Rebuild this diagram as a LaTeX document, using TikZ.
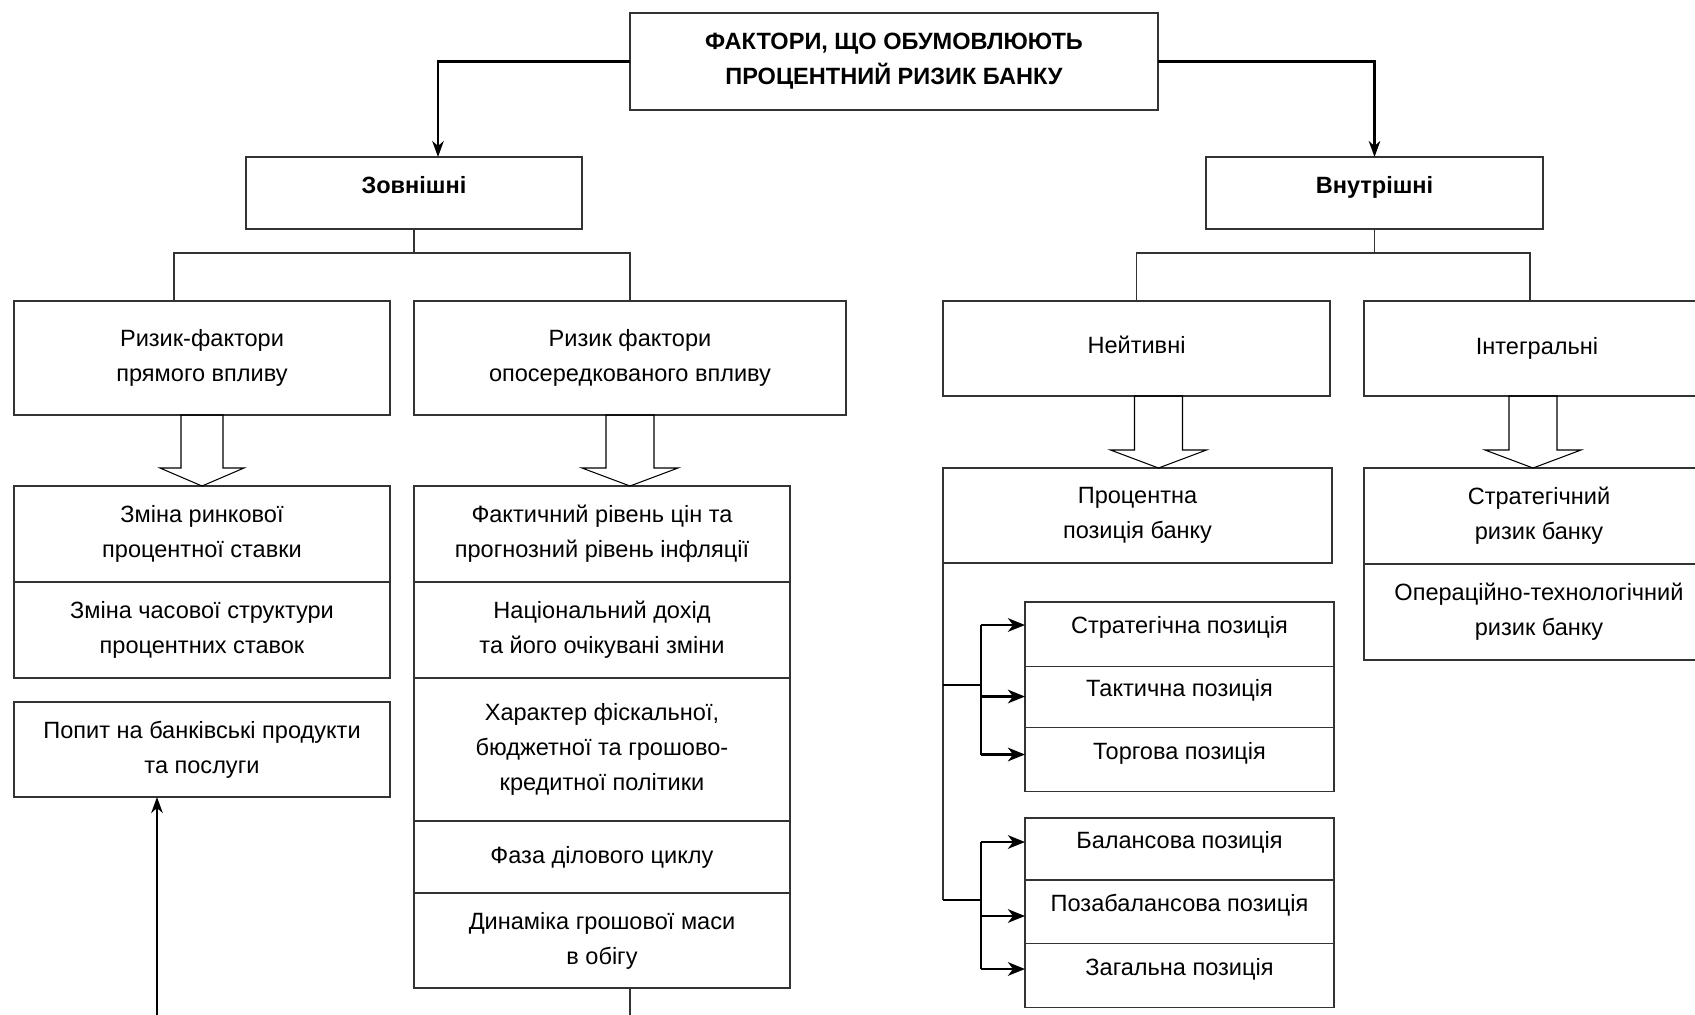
\documentclass[tikz,border=0pt]{standalone}
\usepackage{fontspec}
\setmainfont{Liberation Sans}
\usetikzlibrary{arrows.meta,positioning,calc}
\begin{document}
\begin{tikzpicture}[x=0.2mm, y=-0.2mm,
  box/.style={draw=black!80, line width=0.8pt, inner sep=0pt, outer sep=0pt, align=center,
              font=\fontsize{13.4pt}{20pt}\selectfont},
  hbox/.style={box, font=\fontsize{13.4pt}{20pt}\selectfont\bfseries},
  pbox/.style={box, text height=6mm, text depth=6.2mm},
  sz/.style 2 args={minimum width=#1*0.2mm, minimum height=#2*0.2mm},
  ln/.style={black!80, line width=0.7pt},
  thk/.style={line width=1.6pt},
  arr/.style={-{Stealth[length=3.2mm, width=2.3mm, inset=1mm]}, line width=1.4pt},
  arrb/.style={-{Stealth[length=3.4mm, width=2.7mm, inset=1mm]}, line width=1.6pt},
  hollow/.style={draw=black, line width=0.6pt, line join=miter}]
\useasboundingbox (0,0) rectangle (1695,1014);

\node[hbox, sz={528}{97}, anchor=north west] (top) at (630,13) {ФАКТОРИ, ЩО ОБУМОВЛЮЮТЬ\\ПРОЦЕНТНИЙ РИЗИК БАНКУ};
\node[hbox, sz={336}{72}, text depth=3.2mm, anchor=north west] (ext) at (246,157) {Зовнішні};
\node[hbox, sz={337}{72}, text depth=3.4mm, anchor=north west] (int) at (1206,157) {Внутрішні};

\node[box, sz={376}{114}, anchor=north west] (dir) at (14,301) {Ризик-фактори\\прямого впливу};
\node[box, sz={432}{114}, anchor=north west] (ind) at (414,301) {Ризик фактори\\опосередкованого впливу};
\node[box, sz={387}{95}, text depth=1.3mm, anchor=north west] (neit) at (943,301) {Нейтивні};
\node[box, sz={346}{95}, anchor=north west] (integ) at (1364,301) {Інтегральні};

\node[box, sz={376}{96}, anchor=north west] (zr) at (14,486) {Зміна ринкової\\процентної ставки};
\node[box, sz={376}{96}, below=0pt of zr] (zc) {Зміна часової структури\\процентних ставок};
\node[box, sz={376}{95}, anchor=north west] (pop) at (14,702) {Попит на банківські продукти\\та послуги};

\node[box, sz={376}{96}, anchor=north west] (f1) at (414,486) {Фактичний рівень цін та\\прогнозний рівень інфляції};
\node[box, sz={376}{96}, below=0pt of f1] (f2) {Національний дохід\\та його очікувані зміни};
\node[box, sz={376}{143}, below=0pt of f2] (f3) {Характер фіскальної,\\бюджетної та грошово-\\кредитної політики};
\node[box, sz={376}{72}, below=0pt of f3] (f4) {Фаза ділового циклу};
\node[box, sz={376}{95}, below=0pt of f4] (f5) {Динаміка грошової маси\\в обігу};

\node[box, sz={389}{95}, anchor=north west] (proc) at (943,468) {Процентна\\позиція банку};
\node[box, sz={350}{96}, anchor=north west] (strat) at (1364,468) {Стратегічний\\ризик банку};
\node[box, sz={350}{96}, below=0pt of strat] (oper) {Операційно-технологічний\\ризик банку};

\node[pbox, sz={309}{64.5}, anchor=north west] (p1) at (1025,602) {Стратегічна позиція};
\node[pbox, sz={309}{61}, below=0pt of p1] (p2) {Тактична позиція};
\node[pbox, sz={309}{64}, below=0pt of p2] (p3) {Торгова позиція};
\node[pbox, sz={309}{62}, anchor=north west] (q1) at (1025,818) {Балансова позиція};
\node[pbox, sz={309}{63.5}, below=0pt of q1] (q2) {Позабалансова позиція};
\node[pbox, sz={309}{64}, below=0pt of q2] (q3) {Загальна позиція};

\draw[arr] (top.west) -| ($(ext.north)+(24,0)$);
\draw[arr] (top.east) -| (int.north);
\draw[ln] (ext.south) -- ++(0,24) coordinate (et);
\draw[ln] ($(dir.north)+(-28,0)$) |- (et) -| (ind.north);
\draw[ln] (int.south) -- ++(0,24) coordinate (it);
\draw[ln] (neit.north) |- (it) -| ($(integ.north)+(-7,0)$);

\foreach \a/\b/\dx/\sw/\hw in {dir/zr/0/21/42, ind/f1/0/24/48, neit/proc/22/24/48, integ/strat/-4/24/48} {
  \coordinate (s) at ($(\a.south)+(\dx,0)$);
  \coordinate (t) at (s |- \b.north);
  \draw[hollow] (t) -- ++(-\hw,-18) -- ++(\hw-\sw,0) -- ($(s)+(-\sw,0)$) -- ($(s)+(\sw,0)$)
    -- ($(t)+(\sw,-18)$) -- ++(\hw-\sw,0) -- cycle;
}

\coordinate (pin) at (157,1020);
\draw[arr] (pin) -- (pin |- pop.south);
\draw[ln] (f5.south -| ind.south) -- ++(0,30);

\draw[ln] (proc.south west) -- ++(0,337) coordinate (b2);
\coordinate (b1) at ($(proc.south west)+(0,122)$);
\draw[thk] (b1) -- ++(38,0);
\draw[thk] ($(p1.north west)+(-44,23)$) -- ($(p3.north west)+(-44,27)$);
\draw[thk] (b2) -- ++(38,0);
\draw[thk] ($(q1.north west)+(-44,24)$) -- ($(q3.north west)+(-44,25.5)$);
\foreach \n/\d in {p1/23, p2/30, p3/27, q1/24, q2/36, q3/25.5}
  \draw[arrb] ($(\n.north west)+(-44,\d)$) -- ($(\n.north west)+(0,\d)$);
\end{tikzpicture}
\end{document}
